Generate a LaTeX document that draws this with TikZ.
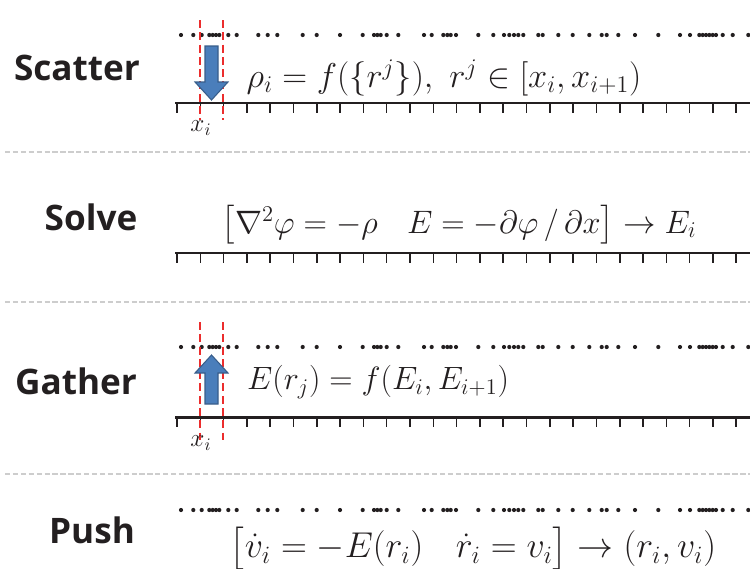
\documentclass[tikz,border=0pt]{standalone}
\usepackage{amsmath,amssymb}
\usepackage{fontspec}
\setsansfont{Open Sans}
\usepackage{tikz}
\usetikzlibrary{arrows.meta,positioning,calc}
\definecolor{arrowfill}{RGB}{74,126,187}
\definecolor{arrowline}{RGB}{56,93,138}
\definecolor{cellred}{RGB}{235,45,45}
\definecolor{sepgray}{RGB}{205,205,205}
\definecolor{textdark}{RGB}{35,31,32}

% particle positions along the line (px)
\def\dotxs{181,193.3,201.7,209.3,212.7,216,219.3,228.3,236.7,258.3,267.7,277.3,302.7,316.7,340,362.7,374,377.3,380.7,386.7,398.3,424,431.7,443.3,447.3,450.7,456,478.3,493.3,504,509.3,514,518.3,523.3,538.3,542.7,558.3,572.7,589.3,601.7,606.7,618.3,635,658.3,680,690,699.3,702.7,706,709.3,712.7,716,722.7,732.7,748.3}

\tikzset{
  stage/.style={font=\sffamily\bfseries\fontsize{20}{22}\selectfont, text=textdark},
  formula/.style={font=\fontsize{20.74}{24}\selectfont, text=textdark, inner sep=0pt},
  gridline/.style={line width=1.7pt, textdark},
  gridtick/.style={line width=0.9pt, textdark},
  cellwall/.style={cellred, line width=1.1pt, dash pattern=on 4.5pt off 2.5pt},
  separator/.style={sepgray, line width=0.6pt, dash pattern=on 3pt off 1.5pt},
  movearrow/.style={fill=arrowfill, draw=arrowline, line width=0.6pt}
}

\begin{document}
\begin{tikzpicture}[x=0.02cm, y=-0.02cm]
\useasboundingbox (0,0) rectangle (750,568);

% separators
\foreach \y in {152,302,474}
  \draw[separator] (5,\y) -- (750,\y);

% stage names
\node[stage] (scatter) at (77,68) {Scatter};
\node[stage] (solve) at (91,217) {Solve};
\node[stage] (gather) at (76,381) {Gather};
\node[stage] (push) at (92,530) {Push};

% particles
\foreach \y in {35,347,510}
  \foreach \x in \dotxs
    \fill[textdark] (\x,\y) circle (2.1);

% grid lines with ticks
\foreach \y in {103,253,417} {
  \draw[gridline] (175,\y) -- (750,\y);
  \foreach \i in {0,...,24}
    \draw[gridtick] ({177+23.3*\i},\y) -- ++(0,10);
}

% cell walls around x_i
\foreach \x in {200,223} {
  \draw[cellwall] (\x,20) -- (\x,120);
  \draw[cellwall] (\x,322) -- (\x,440);
}
\node[font=\fontsize{14}{16}\selectfont, text=textdark] (xa) at (201,128) {$x_i$};
\node[font=\fontsize{14}{16}\selectfont, text=textdark] (xb) at (201,443) {$x_i$};

% deposit (down) and interpolate (up)
\draw[movearrow] (205,46) -- (218,46) -- (218,82) -- (228,82) -- (211.5,100)
  -- (195,82) -- (205,82) -- cycle;
\draw[movearrow] (205,404) -- (218,404) -- (218,373) -- (228,373) -- (211.5,355)
  -- (195,373) -- (205,373) -- cycle;

% equations
\node[formula, scale=0.945] (rho) at (444,78)
  {$\rho_i = f(\{r^j\}),\ r^j \in [x_i, x_{i+1})$};
\node[formula, scale=0.89] (field) at (459,225)
  {$\bigl[\nabla^2\varphi = -\rho\ \ \ E = -\partial\varphi\,/\,\partial x\bigr] \to E_i$};
\node[formula, scale=0.885] (interp) at (378,382)
  {$E(r_j) = f(E_i, E_{i+1})$};
\node[formula, scale=0.985] (move) at (473,549)
  {$\bigl[\dot v_i = -E(r_i)\ \ \ \dot r_i = v_i\bigr] \to (r_i, v_i)$};
\end{tikzpicture}
\end{document}
